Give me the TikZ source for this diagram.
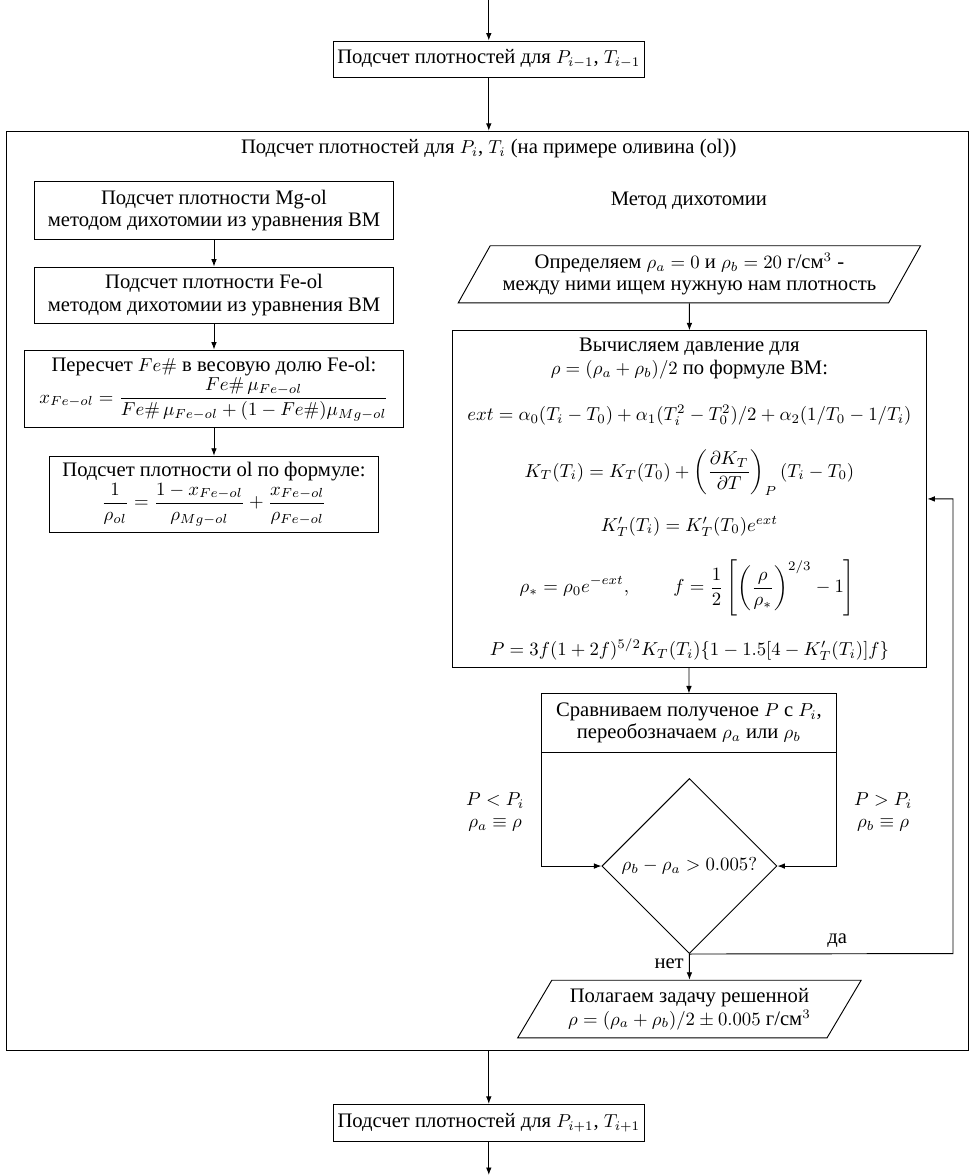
\documentclass[tikz,border=0pt]{standalone}
\usepackage{amsmath,amssymb}
\usepackage[no-math]{fontspec}
\setmainfont{Liberation Serif}[Scale=1.1]
\usetikzlibrary{arrows.meta,positioning,shapes.geometric}

\begin{document}
\begin{tikzpicture}[
  proc/.style={draw, line width=0.5pt, align=center, inner sep=2pt},
  iobox/.style={draw, line width=0.5pt, align=center, trapezium,
    trapezium stretches=true, trapezium left angle=61, trapezium right angle=119},
  cond/.style={draw, line width=0.5pt, diamond, aspect=1, inner sep=0pt,
    minimum width=3.28cm, minimum height=3.28cm},
  flow/.style={line width=0.5pt, -{Latex[length=4pt,width=3pt]}}
]
  \useasboundingbox (0,0) rectangle (18.18,-22.02);

  % --- Outer step (frame drawn first, steps on top) ---
  \coordinate (entry) at (9.16,0);
  \node[proc, minimum width=5.83cm, minimum height=0.675cm] (prev) at (9.16,-1.106)
    {Подсчет плотностей для $P_{i-1}$, $T_{i-1}$};
  \node[draw, line width=0.5pt, minimum width=18.01cm, minimum height=17.22cm] (frame) at (9.135,-11.07) {};
  \node (title) at (9.16,-2.79) {Подсчет плотностей для $P_i$, $T_i$ (на примере оливина (ol))};
  \node[proc, minimum width=5.83cm, minimum height=0.69cm] (next) at (9.16,-21.04)
    {Подсчет плотностей для $P_{i+1}$, $T_{i+1}$};
  \coordinate (exit) at (9.16,-22.02);

  % --- Left column: olivine density ---
  \node[proc, minimum width=6.71cm, minimum height=1.07cm] (mgol) at (4.01,-3.945)
    {Подсчет плотности Mg-ol\\ методом дихотомии из уравнения BM};
  \node[proc, minimum width=6.71cm, minimum height=1.05cm] (feol) at (4.01,-5.53)
    {Подсчет плотности Fe-ol\\ методом дихотомии из уравнения BM};
  \node[proc, minimum width=7.12cm, minimum height=1.46cm] (conv) at (4.01,-7.29)
    {Пересчет $Fe\#$ в весовую долю Fe-ol:\\
     $x_{Fe-ol} = \dfrac{Fe\#\,\mu_{Fe-ol}}{Fe\#\,\mu_{Fe-ol} + (1-Fe\#)\mu_{Mg-ol}}$};
  \node[proc, minimum width=6.15cm, minimum height=1.42cm] (dens) at (4.01,-9.26)
    {Подсчет плотности ol по формуле:\\
     $\dfrac{1}{\rho_{ol}} = \dfrac{1-x_{Fe-ol}}{\rho_{Mg-ol}} + \dfrac{x_{Fe-ol}}{\rho_{Fe-ol}}$};

  % --- Right column: bisection ---
  \node (dich) at (12.91,-3.77) {Метод дихотомии};
  \node[iobox, minimum width=8.68cm, minimum height=1.07cm] (init) at (12.92,-5.14)
    {Определяем $\rho_a = 0$ и $\rho_b = 20$ г/см$^3$ -\\ между ними ищем нужную нам плотность};
  \node[draw, line width=0.5pt, minimum width=8.90cm, minimum height=6.30cm] (calc) at (12.92,-9.35) {};
  \node[align=center] (head) at (12.92,-6.72)
    {Вычисляем давление для\\ $\rho = (\rho_a + \rho_b)/2$ по формуле BM:};
  \node (eqext) at (12.92,-7.78)
    {$ext = \alpha_0(T_i - T_0) + \alpha_1(T_i^2 - T_0^2)/2 + \alpha_2(1/T_0 - 1/T_i)$};
  \node (eqkt) at (12.92,-8.86)
    {$\displaystyle K_T(T_i) = K_T(T_0) + \left(\frac{\partial K_T}{\partial T}\right)_P (T_i - T_0)$};
  \node (eqkp) at (12.92,-9.86) {$K'_T(T_i) = K'_T(T_0)e^{ext}$};
  \node (eqf) at (12.88,-11.02)
    {$\displaystyle \rho_* = \rho_0 e^{-ext}, \qquad
      f = \frac{1}{2}\left[\left(\frac{\rho}{\rho_*}\right)^{2/3} - 1\right]$};
  \node (eqp) at (12.92,-12.18)
    {$P = 3f(1+2f)^{5/2}K_T(T_i)\{1 - 1.5[4 - K'_T(T_i)]f\}$};
  \node[proc, minimum width=5.52cm, minimum height=1.09cm] (cmp) at (12.91,-13.55)
    {Сравниваем полученое $P$ с $P_i$,\\ переобозначаем $\rho_a$ или $\rho_b$};
  \node[cond] (dec) at (12.92,-16.23) {$\rho_b - \rho_a > 0.005?$};
  \node[iobox, trapezium left angle=60, trapezium right angle=120,
        minimum width=6.44cm, minimum height=1.08cm] (done) at (12.92,-18.91)
    {Полагаем задачу решенной\\ $\rho = (\rho_a + \rho_b)/2 \pm 0.005$ г/см$^3$};
  \coordinate (loop) at (17.86,-17.87);

  % --- Branch labels ---
  \node[align=center] (less) at (9.28,-15.22) {$P < P_i$\\ $\rho_a \equiv \rho$};
  \node[align=center] (more) at (16.55,-15.22) {$P > P_i$\\ $\rho_b \equiv \rho$};
  \node (yes) at (15.69,-17.62) {да};
  \node (no) at (12.54,-18.07) {нет};

  % --- Connectors ---
  \draw[flow] (entry) -- (prev);
  \draw[flow] (prev) -- (prev |- frame.north);
  \draw[flow] (frame.south -| next) -- (next);
  \draw[flow] (next) -- (exit);
  \draw[flow] (mgol) -- (feol);
  \draw[flow] (feol) -- (conv);
  \draw[flow] (conv) -- (dens);
  \draw[flow] (init) -- (calc);
  \draw[flow] (calc) -- (cmp);
  \draw[flow] (cmp.south west) |- (dec.west);
  \draw[flow] (cmp.south east) |- (dec.east);
  \draw[flow] (dec.south) -- (loop) |- (calc.east);
  \draw[flow] (dec) -- (done);
\end{tikzpicture}
\end{document}
